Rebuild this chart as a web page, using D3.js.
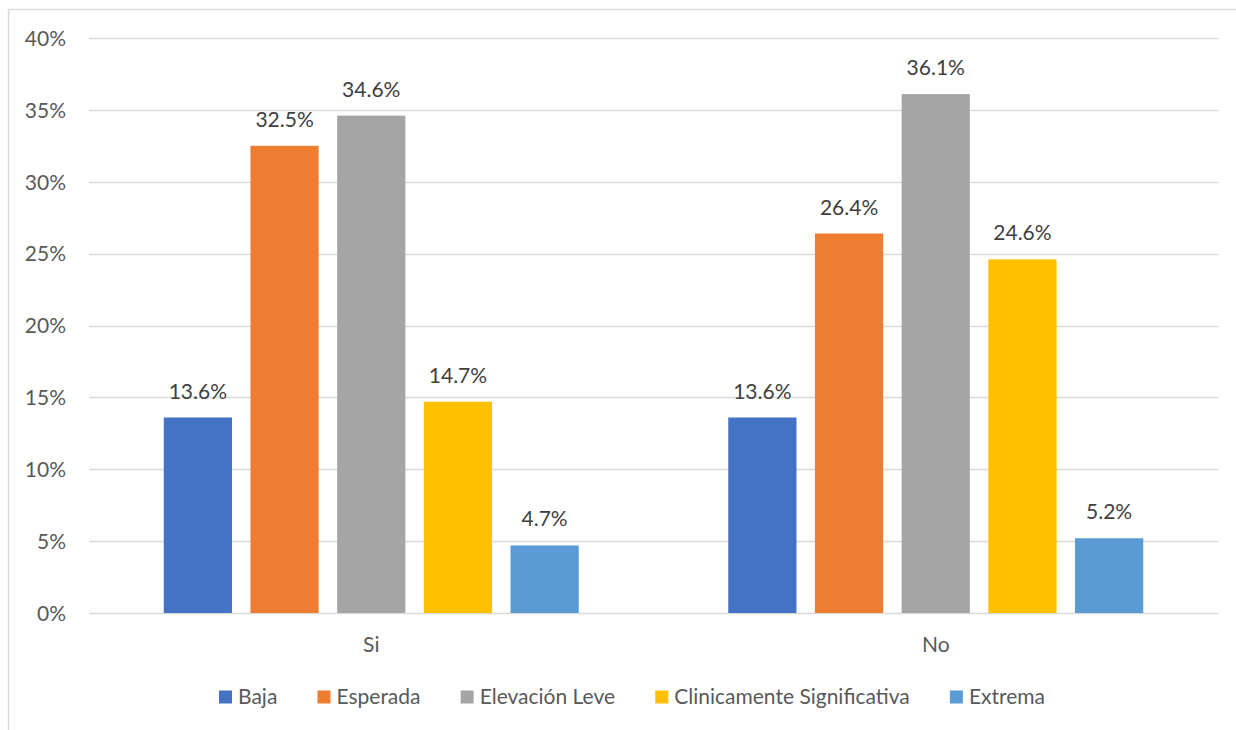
<!DOCTYPE html>
<html>
<head>
<meta charset="utf-8">
<script src="https://cdn.jsdelivr.net/npm/d3@7"></script>
<style>
  html, body { margin: 0; padding: 0; background: #fff; }
  svg { display: block; }
  text { font-family: Lato, "Open Sans", sans-serif; }
</style>
</head>
<body>
<svg id="chart" width="1236" height="730"></svg>
<script>
// Grouped bars: share of each level per group
const groups = ["Si", "No"];
const levels = ["Baja", "Esperada", "Elevación Leve", "Clinicamente Significativa", "Extrema"];
const colors = ["#4472C4", "#ED7D31", "#A5A5A5", "#FFC000", "#5B9BD5"];
const siValues = [13.6, 32.5, 34.6, 14.7, 4.7];
const noValues = [13.6, 26.4, 36.1, 24.6, 5.2];
const yTicks = [0, 5, 10, 15, 20, 25, 30, 35, 40];

const seriesByGroup = { "Si": siValues, "No": noValues };

const FONT_SIZE = 21;
const svg = d3.select("#chart");
const W = 1236, H = 730;
const plot = { left: 89, right: 1218, top: 38, bottom: 613 };

// chart frame
svg.append("rect")
  .attr("x", 8.5).attr("y", 9.5)
  .attr("width", W + 20).attr("height", H + 20)
  .attr("fill", "none").attr("stroke", "#D9D9D9").attr("stroke-width", 1.5);

const x0 = d3.scaleBand().domain(groups).range([plot.left, plot.right]).paddingInner(0).paddingOuter(0);
// the bar cluster sits in the middle of each band
const clusterWidth = 415;
const x1 = d3.scaleBand().domain(levels)
  .range([(x0.bandwidth() - clusterWidth) / 2, (x0.bandwidth() + clusterWidth) / 2])
  .paddingInner(0.213).paddingOuter(0);

const y = d3.scaleLinear().domain([0, 40]).range([plot.bottom, plot.top]);

// gridlines
svg.append("g").selectAll("line")
  .data(yTicks)
  .join("line")
  .attr("x1", plot.left).attr("x2", plot.right)
  .attr("y1", d => Math.round(y(d)) + 0.5).attr("y2", d => Math.round(y(d)) + 0.5)
  .attr("stroke", "#D9D9D9").attr("stroke-width", 1.3);

// y axis labels
const yAxis = d3.axisLeft(y).tickValues(yTicks).tickFormat(d => d + "%").tickSize(0).tickPadding(0);
const ya = svg.append("g").attr("transform", `translate(${66},0)`).call(yAxis);
ya.select(".domain").remove();
ya.selectAll("text")
  .attr("font-family", "Lato, 'Open Sans', sans-serif")
  .attr("font-size", FONT_SIZE).attr("fill", "#595959").attr("dy", "0.35em");

// bars
const gGroups = svg.append("g").selectAll("g")
  .data(groups)
  .join("g")
  .attr("transform", d => `translate(${x0(d)},0)`);

gGroups.selectAll("rect")
  .data(g => seriesByGroup[g].map((v, i) => ({ level: levels[i], value: v, color: colors[i] })))
  .join("rect")
  .attr("x", d => x1(d.level))
  .attr("width", x1.bandwidth())
  .attr("y", d => y(d.value))
  .attr("height", d => y(0) - y(d.value))
  .attr("fill", d => d.color);

// value labels
gGroups.selectAll("text.lbl")
  .data(g => seriesByGroup[g].map((v, i) => ({ level: levels[i], value: v })))
  .join("text")
  .attr("class", "lbl")
  .attr("x", d => x1(d.level) + x1.bandwidth() / 2)
  .attr("y", d => y(d.value) - 19)
  .attr("text-anchor", "middle")
  .attr("font-size", FONT_SIZE)
  .attr("fill", "#404040")
  .text(d => d.value.toFixed(1) + "%");

// category labels
const xAxis = d3.axisBottom(x0).tickSize(0).tickPadding(0);
const xa = svg.append("g").attr("transform", `translate(0,${652})`).call(xAxis);
xa.select(".domain").remove();
xa.selectAll("text")
  .attr("font-family", "Lato, 'Open Sans', sans-serif")
  .attr("font-size", FONT_SIZE).attr("fill", "#595959").attr("dy", 0);

// legend
const legend = svg.append("g");
const items = legend.selectAll("g").data(levels).join("g");
items.append("rect").attr("width", 13).attr("height", 13).attr("y", -6.5)
  .attr("fill", (d, i) => colors[i]);
items.append("text").attr("x", 19).attr("dy", "0.35em")
  .attr("font-size", FONT_SIZE).attr("fill", "#595959").text(d => d);
const widths = [];
items.each(function () { widths.push(this.getBBox().width); });
const legendLeft = 219, legendRight = 1045;
const gap = (legendRight - legendLeft - d3.sum(widths)) / (levels.length - 1);
let cx = legendLeft;
items.attr("transform", (d, i) => {
  const t = `translate(${cx},${697})`;
  cx += widths[i] + gap;
  return t;
});
</script>
</body>
</html>
